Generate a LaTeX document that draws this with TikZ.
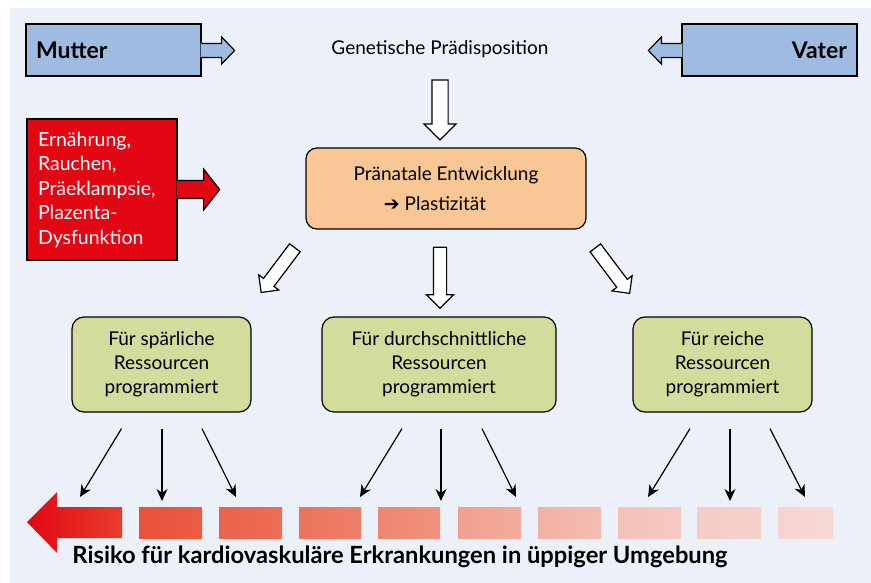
\documentclass[tikz,border=0pt]{standalone}
\usepackage{fontspec}
\setmainfont{Lato}
\newfontfamily\symfont{DejaVu Sans}
\usetikzlibrary{arrows.meta, shapes.arrows, positioning}

\definecolor{bgblue}{HTML}{ECF0F9}
\definecolor{parentblue}{HTML}{9EBCE2}
\definecolor{riskred}{HTML}{E30613}
\definecolor{prenatal}{HTML}{F9C796}
\definecolor{progreen}{HTML}{D3DC9C}

\begin{document}
\begin{tikzpicture}[x = 1pt, y = -1pt, % pixel grid, y runs down
                > = {Stealth[length=12pt, width=11pt]}, % arrow head style
                line width = 1.2pt % line style
            ]

            \tikzstyle{every node}=[font=\fontsize{19}{24}\selectfont]
            \tikzstyle{parent}=[draw = black, fill = parentblue, minimum height = 52pt,
            text width = 155pt, inner xsep = 10pt, font=\fontsize{23}{26}\selectfont\bfseries]
            \tikzstyle{program}=[draw = black, fill = progreen, rounded corners = 12pt,
            minimum height = 95pt, align = center, inner sep = 0pt]
            \tikzstyle{hollow}=[draw = black, fill = white, single arrow, inner xsep = 0pt,
            single arrow tip angle = 90]

            % background
            \useasboundingbox (0,0) rectangle (871,583);
            \fill[bgblue] (10,8) rectangle (871,583);

            % parents
            \node[parent, align = left] (mutter) at (113.5,50) {Mutter};
            \node[parent, align = right] (vater) at (769.5,50) {Vater};
            \node (gen) at (440,49) {Genetische Prädisposition};

            \fill[parentblue] ([xshift=-1pt, yshift=6.5pt]mutter.east) -- ++(21,0) -- ++(0,-6.5)
            -- ++(13,13.5) -- ++(-13,13.5) -- ++(0,-6.5) -- ++(-21,0) -- cycle;
            \draw ([yshift=6.5pt]mutter.east) -- ++(20,0) -- ++(0,-6.5)
            -- ++(13,13.5) -- ++(-13,13.5) -- ++(0,-6.5) -- ++(-20,0);
            \fill[parentblue] ([xshift=1pt, yshift=6.5pt]vater.west) -- ++(-21,0) -- ++(0,-6.5)
            -- ++(-13,13.5) -- ++(13,13.5) -- ++(0,-6.5) -- ++(21,0) -- cycle;
            \draw ([yshift=6.5pt]vater.west) -- ++(-20,0) -- ++(0,-6.5)
            -- ++(-13,13.5) -- ++(13,13.5) -- ++(0,-6.5) -- ++(20,0);

            % prenatal factors
            \node[draw = black, fill = riskred, text = white, align = left, text width = 128pt,
            inner xsep = 11pt, minimum height = 141pt, font=\fontsize{19.5}{24.5}\selectfont]
            (risk) at (102,189.5)
            {Ernährung,\\Rauchen,\\Präeklampsie,\\Plazenta-\\Dysfunktion};
            \fill[riskred] ([xshift=-1pt, yshift=9pt]risk.east) -- ++(27,0) -- ++(0,-11.5)
            -- ++(16,20.5) -- ++(-16,20.5) -- ++(0,-11.5) -- ++(-27,0) -- cycle;
            \draw ([yshift=9pt]risk.east) -- ++(26,0) -- ++(0,-11.5)
            -- ++(16,20.5) -- ++(-16,20.5) -- ++(0,-11.5) -- ++(-26,0);

            \node[draw = black, fill = prenatal, rounded corners = 11pt, minimum width = 280pt,
            minimum height = 81pt, align = center, font=\fontsize{19}{30}\selectfont]
            (pre) at (446,188.5) {Pränatale Entwicklung\\{\symfont\bfseries\fontsize{19}{30}\selectfont ➔}
            Plastizität\hspace*{22pt}};

            \node[hollow, inner ysep = 7.5pt, single arrow head extend = 8pt,
            minimum height = 60pt, rotate = -90] (down) at (440,106) {};

            % programming
            \node[program, minimum width = 179pt] (spar) at (161.5,364.5)
            {Für spärliche\\Ressourcen\\programmiert};
            \node[program, minimum width = 234pt] (durch) at (439,364.5)
            {Für durchschnittliche\\Ressourcen\\programmiert};
            \node[program, minimum width = 179pt] (reich) at (722.5,364.5)
            {Für reiche\\Ressourcen\\programmiert};

            \node[hollow, inner ysep = 6pt, single arrow head extend = 6pt,
            minimum height = 56pt, rotate = -127] (toSpar) at (280,267.5) {};
            \node[hollow, inner ysep = 6pt, single arrow head extend = 7pt,
            minimum height = 61pt, rotate = -90] (toDurch) at (440,274.5) {};
            \node[hollow, inner ysep = 6pt, single arrow head extend = 6pt,
            minimum height = 57pt, rotate = -53] (toReich) at (610.5,268) {};

            % risk bar, each piece a little paler
            \shade[left color = riskred, right color = {rgb,255:red,231;green,62;blue,44}]
            (27,522) -- (57,492) -- (57,507) -- (122,507) -- (122,538) -- (57,538)
            -- (57,553) -- cycle;
            \foreach \xa/\xb/\ca/\cb in {139/202/E9503A/EA5E45, 219/282/EB6249/EC6E55,
                299/361/ED735B/EE8068, 378/440/EF856F/F0937F, 458/521/F1A090/F2AC9D,
                538/601/F2B1A3/F3BDB2, 618/681/F4C1B8/F5CAC2, 697/761/F5CCC6/F5D1CC,
                778/833/F6D3CF/F6D8D5}
            {
                \definecolor{lc}{HTML}{\ca}\definecolor{rc}{HTML}{\cb}
                \shade[left color = lc, right color = rc] (\xa,507) rectangle (\xb,538);
            }

            \coordinate (a1) at (80,497); \coordinate (a2) at (162,501);
            \coordinate (a3) at (236,497);
            \coordinate (b1) at (360,497); \coordinate (b2) at (441,501);
            \coordinate (b3) at (516,497);
            \coordinate (c1) at (648,497); \coordinate (c2) at (730,501);
            \coordinate (c3) at (805,497);

            \path[->] ([xshift=-40pt, yshift=-16pt]spar.south) edge (a1);
            \path[->] ([xshift=0.5pt, yshift=-16pt]spar.south) edge (a2);
            \path[->] ([xshift=40.5pt, yshift=-16pt]spar.south) edge (a3);
            \path[->] ([xshift=-37pt, yshift=-16pt]durch.south) edge (b1);
            \path[->] ([xshift=2pt, yshift=-16pt]durch.south) edge (b2);
            \path[->] ([xshift=43pt, yshift=-16pt]durch.south) edge (b3);
            \path[->] ([xshift=-32.5pt, yshift=-16pt]reich.south) edge (c1);
            \path[->] ([xshift=7.5pt, yshift=-16pt]reich.south) edge (c2);
            \path[->] ([xshift=47.5pt, yshift=-16pt]reich.south) edge (c3);

            \node[font=\fontsize{23.7}{26}\selectfont\bfseries] (label) at (400,557)
            {Risiko für kardiovaskuläre Erkrankungen in üppiger Umgebung};
        \end{tikzpicture}
\end{document}
